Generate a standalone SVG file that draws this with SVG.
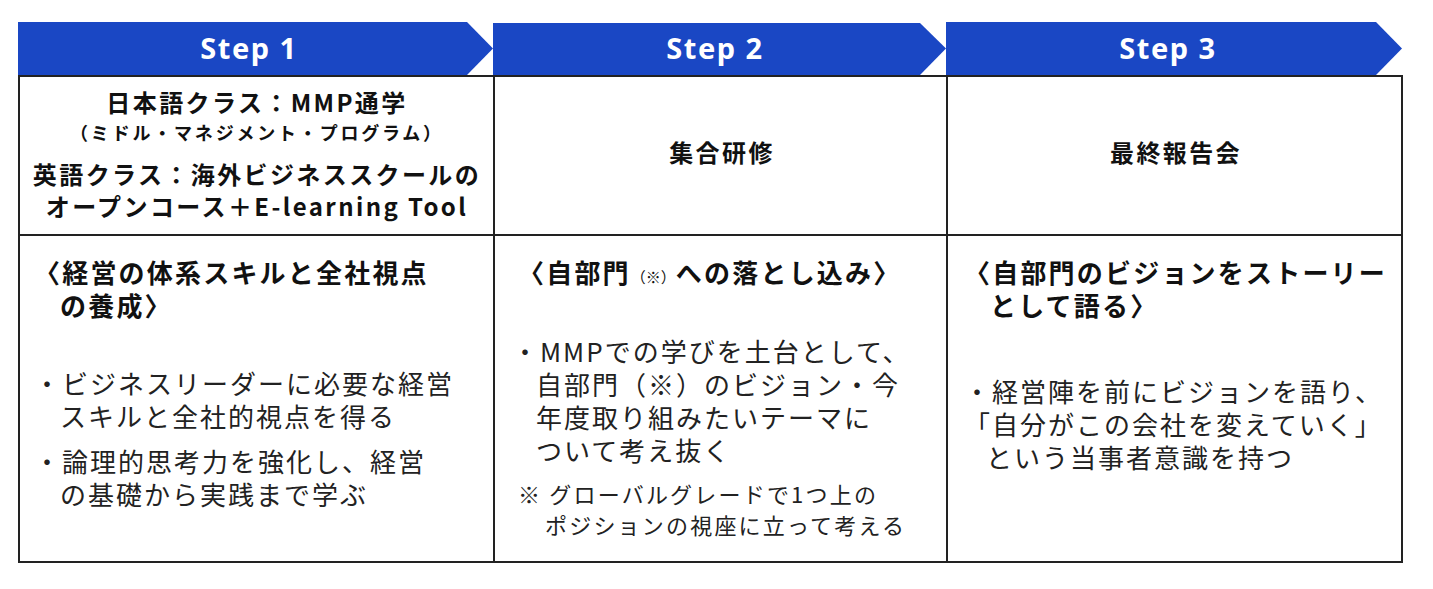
<svg xmlns="http://www.w3.org/2000/svg" width="1433" height="589" viewBox="0 0 1433 589">
<style>
.hd{fill:#1a47c4}
.ht{font-family:"Noto Sans","Noto Sans CJK JP",sans-serif;font-weight:bold;font-size:29px;letter-spacing:1.5px;fill:#fff;text-anchor:middle}
.t{font-family:"Noto Sans CJK JP",sans-serif;font-size:24px;letter-spacing:2.4px;font-weight:bold;fill:#111;text-anchor:middle}
.s{font-family:"Noto Sans CJK JP",sans-serif;font-size:18px;letter-spacing:2.8px;font-weight:bold;fill:#111;text-anchor:middle}
.b{font-family:"Noto Sans CJK JP",sans-serif;font-size:26px;letter-spacing:2px;fill:#222}
.bb{font-family:"Noto Sans CJK JP",sans-serif;font-size:26px;letter-spacing:2.2px;font-weight:bold;fill:#111}
.n{font-family:"Noto Sans CJK JP",sans-serif;font-size:22px;letter-spacing:2.2px;fill:#222}
.ln{stroke:#222;stroke-width:2;fill:none}
</style>
<g id="step1"><polygon class="hd" points="18,22 467,22 493,48.5 467,75 18,75"/><text class="ht" x="249" y="59">Step 1</text></g>
<g id="step2"><polygon class="hd" points="493,23 920,23 946,48.5 920,75 493,75"/><text class="ht" x="715" y="59">Step 2</text></g>
<g id="step3"><polygon class="hd" points="946,22 1376,22 1402,48.5 1376,75 946,75"/><text class="ht" x="1168" y="59">Step 3</text></g>
<g id="table">
<rect class="ln" x="19" y="76" width="1383" height="486"/>
<line class="ln" x1="494" y1="76" x2="494" y2="562"/>
<line class="ln" x1="947" y1="76" x2="947" y2="562"/>
<line class="ln" x1="19" y1="235" x2="1402" y2="235"/>
</g>
<g id="col1">
<text class="t" x="257" y="112">日本語クラス：MMP通学</text>
<text class="s" x="257" y="140">（ミドル・マネジメント・プログラム）</text>
<text class="t" x="257" y="184">英語クラス：海外ビジネススクールの</text>
<text class="t" x="257" y="216">オープンコース＋E-learning Tool</text>
<text class="bb" x="34" y="283">〈経営の体系スキルと全社視点</text>
<text class="bb" x="60" y="316">の養成〉</text>
<text class="b" x="34" y="394">・ビジネスリーダーに必要な経営</text>
<text class="b" x="60" y="427">スキルと全社的視点を得る</text>
<text class="b" x="34" y="472">・論理的思考力を強化し、経営</text>
<text class="b" x="60" y="505">の基礎から実践まで学ぶ</text>
</g>
<g id="col2">
<text class="t" x="722" y="162">集合研修</text>
<text class="bb" x="518" y="283">〈自部門<tspan font-size="15" font-weight="normal" letter-spacing="0">（※）</tspan>への落とし込み〉</text>
<text class="b" x="512" y="362">・MMPでの学びを土台として、</text>
<text class="b" x="536" y="395">自部門（※）のビジョン・今</text>
<text class="b" x="536" y="428">年度取り組みたいテーマに</text>
<text class="b" x="536" y="461">ついて考え抜く</text>
<text class="n" x="518" y="503">※ グローバルグレードで1つ上の</text>
<text class="n" x="545" y="534">ポジションの視座に立って考える</text>
</g>
<g id="col3">
<text class="t" x="1176" y="162">最終報告会</text>
<text class="bb" x="964" y="283">〈自部門のビジョンをストーリー</text>
<text class="bb" x="990" y="316">として語る〉</text>
<text class="b" x="964" y="402">・経営陣を前にビジョンを語り、</text>
<text class="b" x="964" y="435">「自分がこの会社を変えていく」</text>
<text class="b" x="986" y="468">という当事者意識を持つ</text>
</g>
</svg>
